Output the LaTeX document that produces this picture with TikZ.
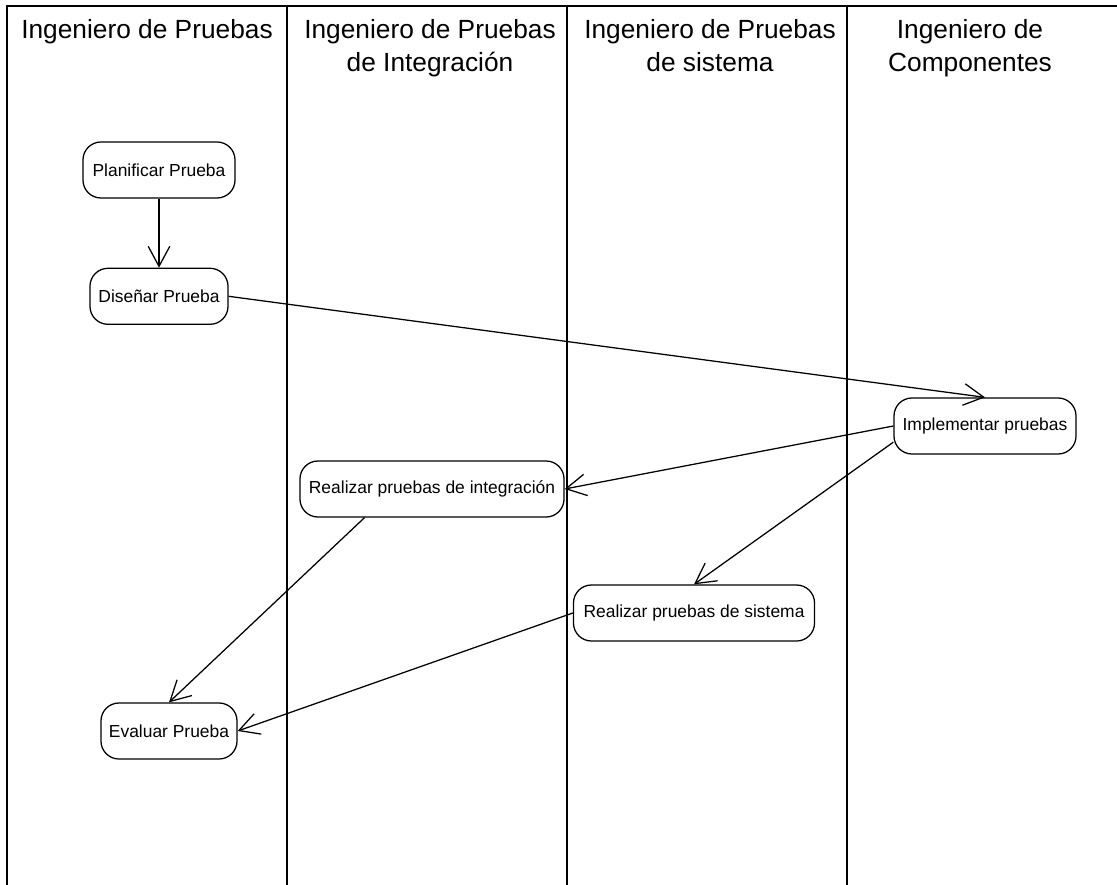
\documentclass[tikz,border=0pt]{standalone}
\usepackage{fontspec}
\setmainfont{Liberation Sans}
\usetikzlibrary{positioning,arrows.meta}

\begin{document}
\begin{tikzpicture}[x=0.025cm, y=-0.025cm,
    ->,
    >={Straight Barb[length=5mm,width=5.4mm]},
    line width=0.9pt,
    act/.style={%
      rectangle, rounded corners=0.45cm, draw=black, fill=white,
      minimum height=1.4cm, inner sep=0pt, align=center,
      font=\fontsize{12.4}{15}\selectfont
    },
    lanehead/.style={%
      anchor=north, align=center, inner sep=0pt,
      font=\fontsize{18.7}{23.5}\selectfont
    },
    lane/.style={-, line width=1.1pt}
]
    \useasboundingbox (0,0) rectangle (1117,885);

    % swimlanes
    \draw[lane] (7,885) -- (7,6) -- (1117,6);
    \foreach \x in {287,567,847}
      \draw[lane] (\x,6) -- (\x,885);

    \node[lanehead] (h1) at (147,19) {Ingeniero de Pruebas};
    \node[lanehead] (h2) at (430,19) {Ingeniero de Pruebas\\de Integración};
    \node[lanehead] (h3) at (710,19) {Ingeniero de Pruebas\\de sistema};
    \node[lanehead] (h4) at (970,19) {Ingeniero de\\Componentes};

    % activities
    \node[act, minimum width=3.8cm]  (plan)  at (159,170)  {Planificar Prueba};
    \node[act, minimum width=3.45cm] (dis)   [below = 1.725cm of plan]  {Diseñar Prueba};
    \node[act, minimum width=4.55cm] (impl)  at (985,426)  {Implementar pruebas};
    \node[act, minimum width=6.6cm]  (integ) at (432,489)  {Realizar pruebas de integración};
    \node[act, minimum width=6.025cm] (sis)  at (694,613)  {Realizar pruebas de sistema};
    \node[act, minimum width=3.4cm]  (eval)  at (169,731)  {Evaluar Prueba};

    \path (plan) edge (dis)
          (dis.east) edge (impl.north)
          (impl.west) edge (integ.east)
          (impl.190) edge (sis.north)
          (integ.203) edge (eval.north)
          (sis.west) edge (eval.east)
    ;

\end{tikzpicture}
\end{document}
